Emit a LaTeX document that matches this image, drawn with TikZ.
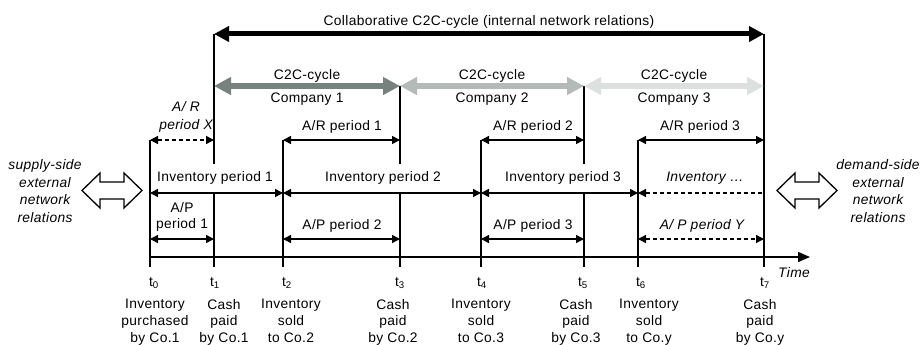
\documentclass[tikz,border=0pt]{standalone}
\usepackage{fontspec}
\setmainfont[LetterSpace=2.5]{Liberation Sans}
\usetikzlibrary{arrows.meta,calc}
\definecolor{cA}{HTML}{77827F}
\definecolor{cB}{HTML}{B3BAB7}
\definecolor{cC}{HTML}{DCE1DF}
\begin{document}
\begin{tikzpicture}[x=1pt,y=-1pt,
  lbl/.style={font=\fontsize{13.8}{16.7}\selectfont, inner sep=0pt, align=center},
  ilbl/.style={font=\fontsize{13.8}{17.5}\selectfont\itshape, inner sep=0pt, align=center},
  wlbl/.style={lbl, fill=white, minimum height=28pt, inner xsep=1pt},
  vline/.style={line width=1.5pt},
  per/.style={line width=1.5pt, {Triangle[length=8pt,width=8pt]}-{Triangle[length=8pt,width=8pt]}},
  perdash/.style={per, dash pattern=on 4pt off 3pt},
  c2c/.style={line width=6.5pt, {Triangle[length=17pt,width=17pt]}-{Triangle[length=17pt,width=17pt]}},
  collab/.style={line width=5pt, {Triangle[length=15pt,width=15pt]}-{Triangle[length=15pt,width=15pt]}},
  hollow/.style={line width=1.3pt, fill=white, line join=miter}
]
\useasboundingbox (0,0) rectangle (924,345);
% time points and rows
\foreach \n/\x in {0/150,1/214,2/283,3/400,4/481,5/584,6/638,7/764}
  \coordinate (t\n) at (\x,0);
\coordinate (yCo) at (0,34);
\coordinate (yC2C) at (0,86);
\coordinate (yAR) at (0,140);
\coordinate (yInv) at (0,193);
\coordinate (yAP) at (0,239);
\coordinate (yAx) at (0,257);
\coordinate (yTk) at (0,267);
\coordinate (axEnd) at (810,257);
% verticals
\draw[vline] (t0|-yAR) -- (t0|-yTk);
\draw[vline] (t1|-yCo) -- (t1|-yTk);
\draw[vline] (t2|-yAR) -- (t2|-yTk);
\draw[vline] (t3|-yC2C) -- (t3|-yTk);
\draw[vline] (t4|-yAR) -- (t4|-yTk);
\draw[vline] (t5|-yC2C) -- (t5|-yTk);
\draw[vline] (t6|-yAR) -- (t6|-yTk);
\draw[vline] (t7|-yCo) -- (t7|-yTk);
% axis
\draw[line width=1.5pt, -{Triangle[length=12pt,width=10pt]}] (t0|-yAx) -- (axEnd);
\node[ilbl, anchor=west] (time) at (778,273) {Time};
% collaborative
\draw[collab] (t1|-yCo) -- (t7|-yCo);
\node[lbl] (title) at (489,22) {Collaborative C2C-cycle (internal network relations)};
% C2C cycles
\draw[c2c, cC] (t5|-yC2C) -- (t7|-yC2C);
\draw[c2c, cB] (t3|-yC2C) -- (t5|-yC2C);
\draw[c2c, cA] (t1|-yC2C) -- (t3|-yC2C);
\node[lbl] (c1a) at (307,76) {C2C-cycle};
\node[lbl] (c1b) at (307,99) {Company 1};
\node[lbl] (c2a) at (492,76) {C2C-cycle};
\node[lbl] (c2b) at (492,99) {Company 2};
\node[lbl] (c3a) at (674,76) {C2C-cycle};
\node[lbl] (c3b) at (674,99) {Company 3};
% A/R row
\draw[perdash] (t0|-yAR) -- (t1|-yAR);
\draw[per] (t2|-yAR) -- (t3|-yAR);
\draw[per] (t4|-yAR) -- (t5|-yAR);
\draw[per] (t6|-yAR) -- (t7|-yAR);
\node[ilbl] (arx) at (186,117) {A/ R\\period X};
\node[lbl] (ar1) at (342,127) {A/R period 1};
\node[lbl] (ar2) at (533,127) {A/R period 2};
\node[lbl] (ar3) at (700,127) {A/R period 3};
% Inventory row
\node[wlbl] (inv1) at (215,178) {Inventory period 1};
\node[wlbl] (inv2) at (383,178) {Inventory period 2};
\node[wlbl] (inv3) at (563,178) {Inventory period 3};
\node[ilbl] (inv4) at (705,178) {Inventory \dots};
\draw[per] (t0|-yInv) -- (t2|-yInv);
\draw[per] (t2|-yInv) -- (t4|-yInv);
\draw[per] (t4|-yInv) -- (t6|-yInv);
\draw[line width=1.5pt, dash pattern=on 4pt off 3pt, {Triangle[length=8pt,width=8pt]}-] (t6|-yInv) -- (t7|-yInv);
% A/P row
\draw[per] (t0|-yAP) -- (t1|-yAP);
\draw[per] (t2|-yAP) -- (t3|-yAP);
\draw[per] (t4|-yAP) -- (t5|-yAP);
\draw[perdash] (t6|-yAP) -- (t7|-yAP);
\node[lbl] (ap1) at (182,217) {A/P\\period 1};
\node[lbl] (ap2) at (342,226) {A/P period 2};
\node[lbl] (ap3) at (533,226) {A/P period 3};
\node[ilbl] (apy) at (702,226) {A/ P period Y};
% time labels
\foreach \n/\x in {0/154,1/215,2/287,3/400,4/482,5/583,6/641,7/765}
  \node[lbl] (lt\n) at (\x,283) {t\textsubscript{\n}};
% bottom labels
\node[lbl, anchor=north] (b0) at (155,299) {Inventory\\purchased\\by Co.1};
\node[lbl, anchor=north] (b1) at (224,299) {Cash\\paid\\by Co.1};
\node[lbl, anchor=north] (b2) at (291,299) {Inventory\\sold\\to Co.2};
\node[lbl, anchor=north] (b3) at (393,299) {Cash\\paid\\by Co.2};
\node[lbl, anchor=north] (b4) at (481,299) {Inventory\\sold\\to Co.3};
\node[lbl, anchor=north] (b5) at (576,299) {Cash\\paid\\by Co.3};
\node[lbl, anchor=north] (b6) at (649,299) {Inventory\\sold\\to Co.y};
\node[lbl, anchor=north] (b7) at (760,299) {Cash\\paid\\by Co.y};
% side labels
\node[ilbl] (supply) at (45,191) {supply-side\\external\\network\\relations};
\node[ilbl] (demand) at (878,191) {demand-side\\external\\network\\relations};
% hollow double arrows
\draw[hollow] (82,190.5) -- (100,173) -- (100,182) -- (124,182) -- (124,173) -- (142,190.5)
  -- (124,208) -- (124,199) -- (100,199) -- (100,208) -- cycle;
\draw[hollow] (777,190.5) -- (795,173) -- (795,182) -- (819,182) -- (819,173) -- (837,190.5)
  -- (819,208) -- (819,199) -- (795,199) -- (795,208) -- cycle;
\end{tikzpicture}
\end{document}
